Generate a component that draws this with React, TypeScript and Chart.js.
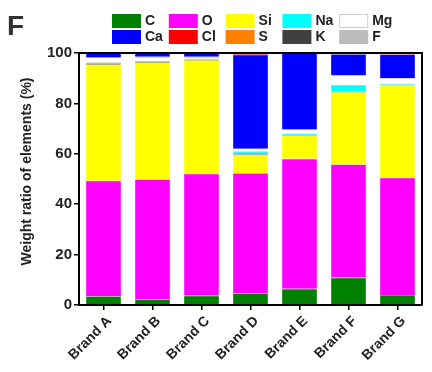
import React, { useEffect, useRef } from "react";
import { Chart, registerables } from "chart.js";

Chart.register(...registerables);

const brands = ["Brand A", "Brand B", "Brand C", "Brand D", "Brand E", "Brand F", "Brand G"];
const elements = ["C", "O", "Si", "Na", "Mg", "Ca", "Cl", "S", "K", "F"];
const colors = ["#008000", "#ff00ff", "#ffff00", "#00ffff", "#ffffff", "#0000ff", "#ff0000", "#ff8000", "#404040", "#bdbdbd"];

const valC = [3.5, 2.3, 3.7, 4.7, 6.4, 10.9, 4.0];
const valO = [45.8, 47.5, 48.4, 47.6, 51.6, 44.9, 46.5];
const valSi = [46.3, 46.6, 45.2, 7.5, 9.3, 28.8, 36.9];
const valNa = [0.6, 0.3, 0.4, 1.1, 0.7, 2.6, 0.4];
const valMg = [2.1, 1.8, 0.8, 1.1, 1.6, 4.0, 2.3];
const valCa = [1.7, 1.5, 1.5, 37.3, 30.4, 8.3, 9.3];
const valCl = [0, 0, 0, 0.7, 0, 0.5, 0.6];
const valS = [0, 0, 0, 0, 0, 0, 0];
const valK = [0, 0, 0, 0, 0, 0, 0];
const valF = [0, 0, 0, 0, 0, 0, 0];
const series = [valC, valO, valSi, valNa, valMg, valCa, valCl, valS, valK, valF];

const yTicks = [0, 20, 40, 60, 80, 100];

const FONT = "'Liberation Sans', Arial, sans-serif";

const extrasPlugin = {
  id: "extras",
  afterDatasetsDraw(chart: any) {
    const { ctx, chartArea } = chart;
    ctx.save();
    ctx.strokeStyle = "#000";
    ctx.lineWidth = 2;
    ctx.beginPath();
    ctx.moveTo(chartArea.left, chartArea.top);
    ctx.lineTo(chartArea.right, chartArea.top);
    ctx.lineTo(chartArea.right, chartArea.bottom);
    ctx.stroke();
    ctx.restore();
  },
  afterDraw(chart: any) {
    const { ctx } = chart;
    ctx.save();
    // panel letter
    ctx.fillStyle = "#333";
    ctx.font = `bold 28px ${FONT}`;
    ctx.textAlign = "left";
    ctx.textBaseline = "alphabetic";
    ctx.fillText("F", 7, 35);
    // y title
    ctx.save();
    ctx.translate(27, 171.5);
    ctx.rotate(-Math.PI / 2);
    ctx.font = `bold 14px ${FONT}`;
    ctx.fillStyle = "#222";
    ctx.textAlign = "center";
    ctx.textBaseline = "middle";
    ctx.fillText("Weight ratio of elements (%)", 0, 0);
    ctx.restore();
    // legend
    chart.data.datasets.forEach((ds: any, i: number) => {
      const row = Math.floor(i / 5);
      const col = i % 5;
      const x = 112 + col * 56.8;
      const y = 14 + row * 16;
      ctx.fillStyle = ds.backgroundColor;
      ctx.fillRect(x, y, 29, 14);
      if (ds.backgroundColor === "#ffffff") {
        ctx.strokeStyle = "#cccccc";
        ctx.lineWidth = 1;
        ctx.strokeRect(x + 0.5, y + 0.5, 28, 13);
      }
      ctx.fillStyle = "#222";
      ctx.font = `bold 14px ${FONT}`;
      ctx.textAlign = "left";
      ctx.textBaseline = "middle";
      ctx.fillText(ds.label, x + 33, y + 7.5);
    });
    ctx.restore();
  },
};

export default function App() {
  const ref = useRef<HTMLCanvasElement | null>(null);
  useEffect(() => {
    if (!ref.current) return;
    const chart = new Chart(ref.current, {
      type: "bar",
      data: {
        labels: brands,
        datasets: elements.map((el, i) => ({
          label: el,
          data: series[i],
          backgroundColor: colors[i],
          borderColor: "rgba(60,60,60,0.7)",
          borderWidth: { top: 0.6, left: 0, right: 0, bottom: 0 },
          borderSkipped: false,
          barPercentage: 0.71,
          categoryPercentage: 1,
        })),
      },
      options: {
        animation: false,
        responsive: false,
        maintainAspectRatio: false,
        layout: { padding: { top: 53, right: 10, left: 0, bottom: 0 } },
        plugins: { legend: { display: false }, tooltip: { enabled: false }, title: { display: false } },
        scales: {
          x: {
            stacked: true,
            afterFit: (s: any) => {
              s.height = 67;
            },
            grid: { offset: false, drawOnChartArea: false, drawTicks: true, tickLength: 5, color: "#000", lineWidth: 1.5 },
            border: { display: true, color: "#000", width: 2 },
            ticks: {
              minRotation: 45,
              maxRotation: 45,
              padding: 3,
              labelOffset: 6,
              color: "#222",
              font: { family: FONT, size: 14, weight: "bold" },
            },
          },
          y: {
            stacked: true,
            min: 0,
            max: 100,
            afterFit: (s: any) => {
              s.width = 79;
            },
            afterBuildTicks: (s: any) => {
              s.ticks = yTicks.map((v) => ({ value: v }));
            },
            grid: { drawOnChartArea: false, drawTicks: true, tickLength: 5, color: "#000", lineWidth: 1.5 },
            border: { display: true, color: "#000", width: 2 },
            ticks: {
              padding: 2,
              color: "#222",
              font: { family: FONT, size: 15, weight: "bold" },
            },
          },
        },
      },
      plugins: [extrasPlugin],
    });
    return () => chart.destroy();
  }, []);
  return (
    <div style={{ position: "absolute", left: 0, top: 0, width: 432, height: 372 }}>
      <canvas ref={ref} width={432} height={372} style={{ width: 432, height: 372 }} />
    </div>
  );
}
